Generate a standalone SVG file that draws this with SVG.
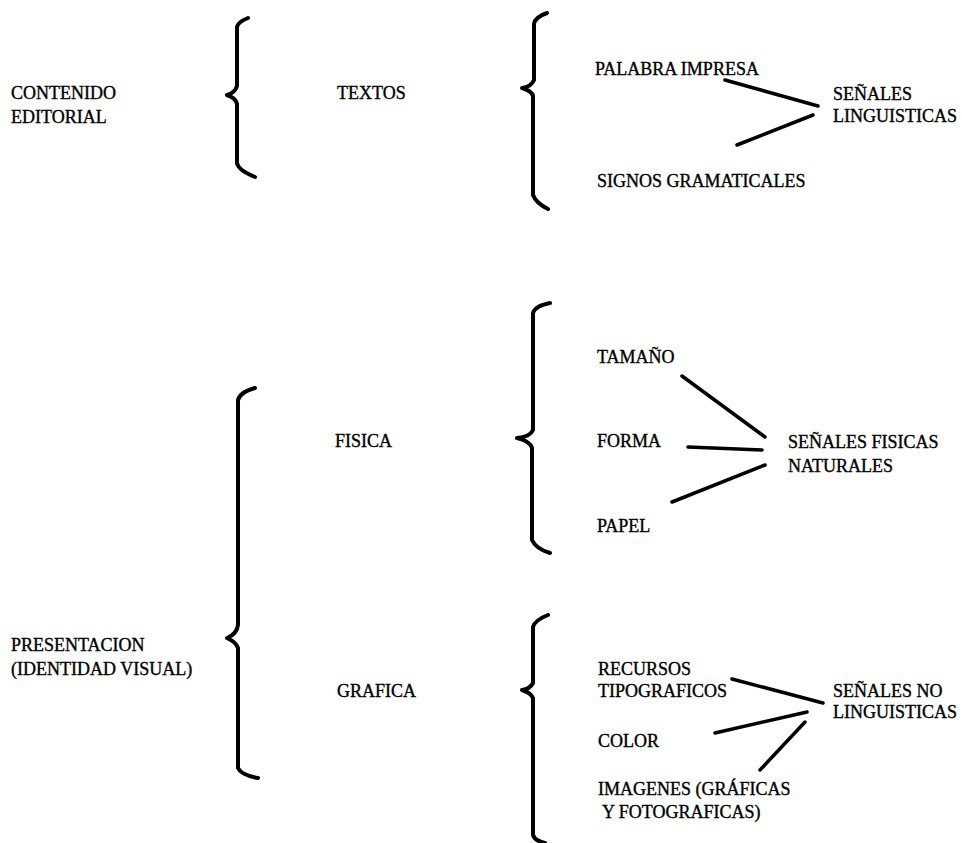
<svg xmlns="http://www.w3.org/2000/svg" width="962" height="843" viewBox="0 0 962 843">
<style>
text{font-family:"Liberation Serif","Times New Roman",serif;font-size:18px;fill:#000;stroke:#000;stroke-width:0.35px}
.br{fill:none;stroke:#000;stroke-width:4;stroke-linecap:round;stroke-linejoin:round}
.ln{fill:none;stroke:#000;stroke-width:3.5;stroke-linecap:round}
</style>
<rect width="962" height="843" fill="#fff"/>
<g id="braces">
<path class="br" d="M248,18 Q238,22 237,27 L237,86 Q235,93 227,95 Q236,98 237,104 L237,163 Q238,170 255,177"/>
<path class="br" d="M547,13 Q535,17 534,24 L534,80 Q531,87 522,88 Q532,91 533,96 L533,195 Q536,203 548,209"/>
<path class="br" d="M255,388 Q240,392 238,400 L238,625 Q237,634 227,638 Q236,642 238,648 L238,768 Q241,775 258,778"/>
<path class="br" d="M550,303 Q535,306 533,313 L533,430 Q530,437 517,438 Q530,441 532,448 L532,540 Q536,549 550,553"/>
<path class="br" d="M548,615 Q535,620 533,627 L533,683 Q530,689 522,690 Q531,693 533,698 L533,835 Q535,841 545,843"/>
</g>
<g id="n-contenido"><text x="11" y="99">CONTENIDO</text><text x="11" y="123">EDITORIAL</text></g>
<g id="n-textos"><text x="337" y="99">TEXTOS</text></g>
<g id="n-palabra"><text x="595" y="75">PALABRA IMPRESA</text></g>
<g id="n-signos"><text x="597" y="187">SIGNOS GRAMATICALES</text></g>
<g id="n-senales-ling"><text x="833" y="100">SEÑALES</text><text x="833" y="122">LINGUISTICAS</text></g>
<g id="n-presentacion"><text x="11" y="651">PRESENTACION</text><text x="11" y="675">(IDENTIDAD VISUAL)</text></g>
<g id="n-fisica"><text x="335" y="447">FISICA</text></g>
<g id="n-grafica"><text x="337" y="697">GRAFICA</text></g>
<g id="n-tamano"><text x="597" y="363">TAMAÑO</text></g>
<g id="n-forma"><text x="597" y="447">FORMA</text></g>
<g id="n-papel"><text x="597" y="532">PAPEL</text></g>
<g id="n-senales-fis"><text x="788" y="448">SEÑALES FISICAS</text><text x="788" y="472">NATURALES</text></g>
<g id="n-recursos"><text x="598" y="675">RECURSOS</text><text x="598" y="697">TIPOGRAFICOS</text></g>
<g id="n-color"><text x="598" y="747">COLOR</text></g>
<g id="n-imagenes"><text x="598" y="795">IMAGENES (GRÁFICAS</text><text x="602" y="818">Y FOTOGRAFICAS)</text></g>
<g id="n-senales-no"><text x="833" y="697">SEÑALES NO</text><text x="833" y="718">LINGUISTICAS</text></g>
<g id="connectors">
<line class="ln" x1="725" y1="80" x2="818" y2="106"/>
<line class="ln" x1="737" y1="145" x2="813" y2="115"/>
<line class="ln" x1="682" y1="376" x2="765" y2="437"/>
<line class="ln" x1="688" y1="447" x2="762" y2="450"/>
<line class="ln" x1="672" y1="502" x2="765" y2="465"/>
<line class="ln" x1="732" y1="679" x2="823" y2="703"/>
<line class="ln" x1="715" y1="733" x2="807" y2="712"/>
<line class="ln" x1="760" y1="770" x2="805" y2="722"/>
</g>
</svg>
